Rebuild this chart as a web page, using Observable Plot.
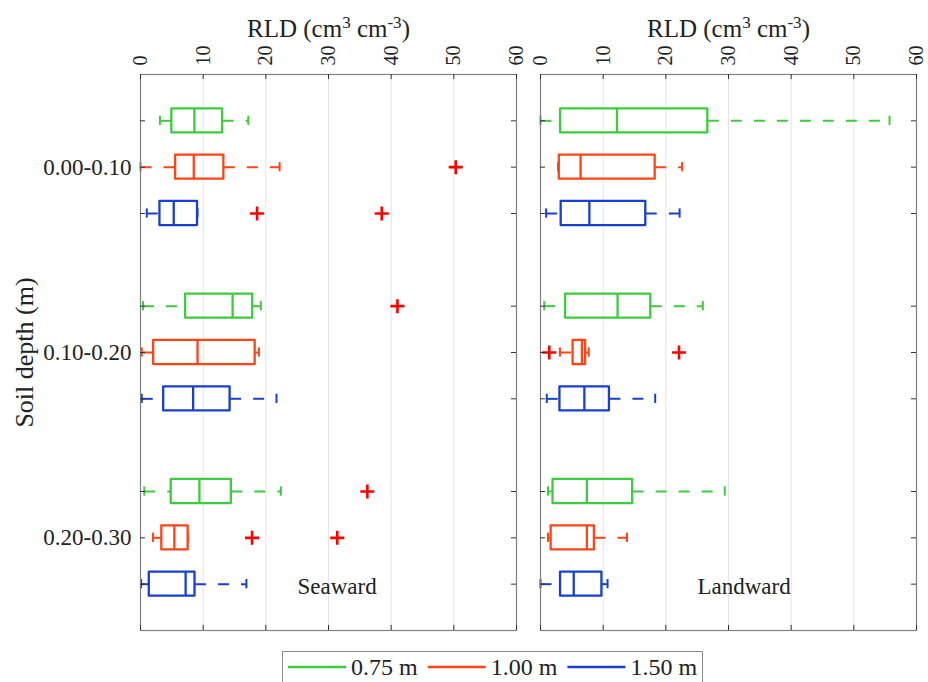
<!DOCTYPE html>
<html>
<head>
<meta charset="utf-8">
<script src="https://cdn.jsdelivr.net/npm/d3@7"></script>
<script src="https://cdn.jsdelivr.net/npm/@observablehq/plot@0.6"></script>
<style>
  body { margin: 0; background: #fff; }
  #wrap { position: relative; width: 928px; height: 682px; overflow: hidden; background: #fff; }
  #wrap > svg { position: absolute; left: 0; top: 0; }
  #legend { position: absolute; left: 282px; top: 651px; }
</style>
</head>
<body>
<div id="wrap"><div id="legend"></div></div>
<script>
// Panels, depth groups and tree-spacing series
const panels = ["Seaward", "Landward"];
const depths = ["0.00-0.10", "0.10-0.20", "0.20-0.30"];
const spacings = ["0.75 m", "1.00 m", "1.50 m"];
const spacingColors = ["#3ccc3c", "#ff4416", "#1840cc"];
const xTicks = [0, 10, 20, 30, 40, 50, 60];
const titleText = "RLD (cm3 cm-3)";
const yTitle = "Soil depth (m)";

// Box summaries (RLD, cm3 cm-3), ordered Seaward then Landward;
// within a panel depth by depth, and spacing 0.75, 1.00, 1.50 m within a depth
const whiskerLow = [
  3.1, 0.0, 1.0,   0.4, 0.2, 0.2,   0.6, 2.0, 0.1,
  0.0, 2.8, 0.9,   0.6, 3.1, 1.0,   1.2, 1.2, 0.0
];
const q1 = [
  5.0, 5.6, 3.1,   7.2, 2.1, 3.7,   4.9, 3.4, 1.4,
  3.2, 3.0, 3.3,   4.0, 5.2, 3.1,   2.0, 1.7, 3.2
];
const median = [
  8.6, 8.5, 5.3,   14.7, 9.1, 8.4,  9.4, 5.4, 7.2,
  12.2, 6.4, 7.8,  12.3, 6.6, 7.0,  7.4, 7.4, 5.3
];
const q3 = [
  13.1, 13.3, 9.1,  17.9, 18.3, 14.3,  14.5, 7.6, 8.7,
  26.7, 18.3, 16.8, 17.6, 7.2, 11.0,   14.7, 8.6, 9.8
];
const whiskerHigh = [
  17.2, 22.2, 9.1,  19.2, 18.9, 21.7,  22.4, 7.6, 16.9,
  55.7, 22.6, 22.2, 25.9, 7.7, 18.3,   29.4, 13.8, 10.7
];
const outliers = [
  [], [50.3], [18.6, 38.5],   [41.0], [], [],   [36.2], [17.8, 31.4], [],
  [], [], [],                 [], [1.4, 22.1], [],  [], [], []
];

// Box geometry in y units (one unit = one row slot)
const boxHalf = 0.26;
const capHalf = 0.1;
const tickLenX = 0.8;   // inward tick length along x
const tickLenY = 0.11;  // inward tick length along y

const rows = [];
{
  let k = 0;
  panels.forEach(panel => depths.forEach((depth, di) => spacings.forEach((spacing, si) => {
    rows.push({
      panel, depth, spacing,
      pos: di * (spacings.length + 1) + si + 1,
      lo: whiskerLow[k], q1: q1[k], med: median[k], q3: q3[k], hi: whiskerHigh[k],
      out: outliers[k]
    });
    k++;
  })));
}
const outlierPoints = rows.flatMap(r => r.out.map(v => ({panel: r.panel, pos: r.pos, value: v})));
const rowPositions = rows.filter(r => r.panel === panels[0]).map(r => r.pos);
const labelPositions = depths.map((d, di) => di * (spacings.length + 1) + 2);

const line = {fx: "panel", stroke: "spacing", strokeWidth: 2};

const chart = Plot.plot({
  width: 928,
  height: 640,
  marginTop: 74,
  marginBottom: 10,
  marginLeft: 139,
  marginRight: 12,
  style: {fontFamily: "'Liberation Serif', 'Times New Roman', serif", color: "#222", background: "#fff"},
  fx: {domain: panels, paddingInner: 0.06, paddingOuter: 0, axis: null, label: null},
  x: {domain: [0, 60], label: null},
  y: {domain: [0, 12], reverse: true, label: null},
  color: {domain: spacings, range: spacingColors},
  marks: [
    // light vertical grid
    Plot.ruleX(xTicks, {stroke: "#e4e4e4", strokeWidth: 1}),

    // dashed whiskers
    Plot.link(rows, {...line, x1: "lo", x2: "q1", y1: "pos", y2: "pos", strokeDasharray: "11,12"}),
    Plot.link(rows, {...line, x1: "q3", x2: "hi", y1: "pos", y2: "pos", strokeDasharray: "11,12"}),
    // whisker caps
    Plot.ruleX(rows, {...line, x: "lo", y1: d => d.pos - capHalf, y2: d => d.pos + capHalf}),
    Plot.ruleX(rows, {...line, x: "hi", y1: d => d.pos - capHalf, y2: d => d.pos + capHalf}),
    // boxes and medians
    Plot.rect(rows, {...line, x1: "q1", x2: "q3", y1: d => d.pos - boxHalf, y2: d => d.pos + boxHalf,
      fill: "none", strokeWidth: 2.3, strokeLinejoin: "round"}),
    Plot.ruleX(rows, {...line, x: "med", y1: d => d.pos - boxHalf, y2: d => d.pos + boxHalf, strokeWidth: 2.3}),
    // outliers
    Plot.dot(outlierPoints, {fx: "panel", x: "value", y: "pos", symbol: "plus", r: 4.6,
      stroke: "#ff0000", strokeWidth: 2.6}),

    // frame and inward ticks
    Plot.frame({stroke: "#808080", strokeWidth: 1.2}),
    Plot.ruleY(rowPositions, {x1: 0, x2: tickLenX, stroke: "#333"}),
    Plot.ruleY(rowPositions, {x1: 60 - tickLenX, x2: 60, stroke: "#333"}),
    Plot.ruleX(xTicks, {y1: 0, y2: tickLenY, stroke: "#333"}),
    Plot.ruleX(xTicks, {y1: 12 - tickLenY, y2: 12, stroke: "#333"}),

    // axes
    Plot.axisX(xTicks, {anchor: "top", tickSize: 0, tickRotate: -90, tickPadding: 9,
      fontSize: 20, label: null}),
    Plot.axisY(labelPositions, {anchor: "left", tickSize: 0, tickPadding: 9, fontSize: 23,
      tickFormat: d => depths[labelPositions.indexOf(d)], label: null}),

    // titles and panel names
    Plot.text(panels, {fx: d => d, text: () => titleText, frameAnchor: "top", lineAnchor: "middle",
      dy: -46, fontSize: 25}),
    Plot.text(panels, {fx: d => d, text: d => d, frameAnchor: "bottom-left", textAnchor: "start",
      lineAnchor: "middle", dx: 157, dy: -44, fontSize: 23}),
    Plot.text([yTitle], {fx: () => panels[0], text: d => d, frameAnchor: "left", textAnchor: "middle",
      lineAnchor: "middle", rotate: -90, dx: -116, fontSize: 26})
  ]
});

// superscript exponents in the axis titles
d3.select(chart).selectAll("text")
  .filter(function () { return this.textContent === titleText; })
  .each(function () {
    const t = d3.select(this);
    t.text(null);
    t.append("tspan").text("RLD (cm");
    t.append("tspan").attr("dy", -9).attr("font-size", 17).text("3");
    t.append("tspan").attr("dy", 9).text(" cm");
    t.append("tspan").attr("dy", -9).attr("font-size", 17).text("-3");
    t.append("tspan").attr("dy", 9).text(")");
  });

document.getElementById("wrap").prepend(chart);

// legend below the panels
const legend = d3.select("#legend").append("svg")
  .attr("width", 421).attr("height", 40)
  .style("font-family", "'Liberation Serif', 'Times New Roman', serif");
legend.append("rect")
  .attr("x", 0.5).attr("y", 0.5).attr("width", 420).attr("height", 45)
  .attr("fill", "#fff").attr("stroke", "#8a8a8a");
const item = legend.selectAll("g.item")
  .data(spacings)
  .join("g")
  .attr("class", "item")
  .attr("transform", (d, i) => `translate(${6 + i * 139.7},0)`);
item.append("line")
  .attr("x1", 0).attr("x2", 58).attr("y1", 16).attr("y2", 16)
  .attr("stroke", (d, i) => spacingColors[i]).attr("stroke-width", 2.6);
item.append("text")
  .attr("x", 63).attr("y", 24)
  .attr("font-size", 24).attr("fill", "#222")
  .text(d => d);
</script>
</body>
</html>
